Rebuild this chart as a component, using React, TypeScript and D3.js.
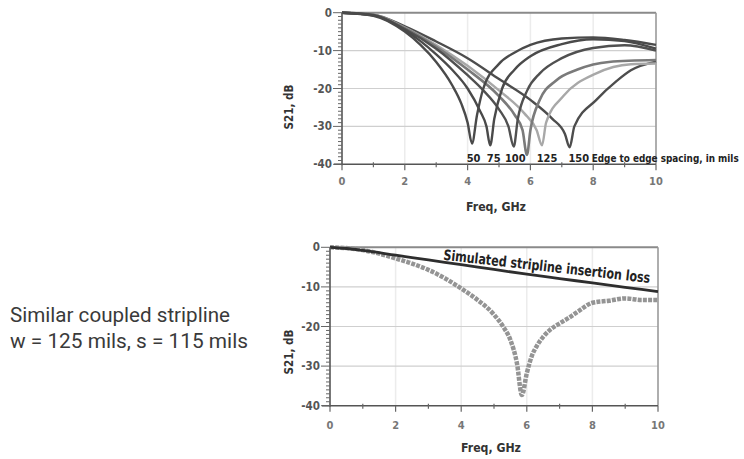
import React from "react";
import * as d3 from "d3";

// ---------- data ----------
const spacingLabels = ["50", "75", "100", "125", "150"];
const spacingLabelFreq = [3.97, 4.61, 5.19, 6.2, 7.21];

const freq50 = [0, 1, 2, 2.5, 3, 3.5, 3.8, 4.0, 4.14, 4.3, 4.5, 5, 5.5, 6, 7, 8, 9, 10];
const s21_50 = [0, -0.8, -5, -8.5, -13, -19, -24, -29, -34.5, -27, -20, -13.5, -10.5, -8.5, -6.8, -6.5, -7.2, -8.5];

const freq75 = [0, 1, 2, 2.5, 3, 3.5, 4, 4.4, 4.6, 4.72, 4.85, 5.1, 5.5, 6, 7, 8, 9, 10];
const s21_75 = [0, -0.7, -4.6, -7.5, -11, -15, -20, -26, -30, -35, -28, -20, -15, -11.5, -8.3, -7, -7.5, -9.5];

const freq100 = [0, 1, 2, 3, 4, 4.5, 5, 5.3, 5.47, 5.6, 5.9, 6.3, 7, 8, 9, 10];
const s21_100 = [0, -0.6, -4.3, -9.5, -16.5, -20.5, -25.5, -30, -35.3, -28, -20.5, -16, -12, -9.3, -8.6, -10];

const freq115 = [0, 1, 2, 3, 4, 5, 5.5, 5.75, 5.89, 6.0, 6.3, 6.8, 7.5, 8.5, 10];
const s21_115 = [0, -0.6, -4.1, -9, -15, -22, -27, -31, -37.5, -31, -23, -18, -15, -13, -12.5];

const freq125 = [0, 1, 2, 3, 4, 5, 5.8, 6.2, 6.37, 6.5, 7.05, 8.1, 9.2, 10];
const s21_125 = [0, -0.5, -3.9, -8.5, -14, -20.5, -26.5, -31, -35, -29, -22, -16, -13.6, -13.4];

const freq150 = [0, 1, 2, 3, 4, 5, 6, 6.7, 7.1, 7.25, 7.4, 8.1, 8.75, 9.2, 10];
const s21_150 = [0, -0.5, -3.6, -7.6, -12, -17.5, -23, -28, -32, -35.5, -30, -23, -18, -15.2, -12.9];

const simFreq = [0, 0.5, 1, 2, 3, 4, 5, 6, 7, 8, 9, 10];
const simS21 = [0, -0.3, -0.8, -2.0, -3.2, -4.4, -5.6, -6.8, -7.9, -9.0, -10.1, -11.2];

const measFreq = [0, 0.5, 1, 1.5, 2, 2.5, 3, 3.5, 4, 4.5, 5, 5.3, 5.5, 5.7, 5.85, 6.0, 6.15, 6.3, 6.5, 6.7, 7.0, 7.3, 7.6, 8.0, 8.5, 9.0, 9.5, 10];
const measS21 = [0, -0.2, -0.7, -1.6, -2.8, -4.1, -5.7, -7.8, -10.4, -13.3, -17, -20.3, -23.4, -29.3, -37.3, -31.8, -27.5, -25, -22.6, -20.9, -19.2, -17.7, -16, -14, -13.5, -12.9, -13.3, -13.3];

const xTicks = [0, 2, 4, 6, 8, 10];
const yTicks = [0, -10, -20, -30, -40];

// ---------- layout ----------
const W = 744;
const H = 459;
const condensed = "'Liberation Sans Narrow', 'DejaVu Sans Condensed', 'Roboto Condensed', 'Liberation Sans', sans-serif";

type Series = { f: number[]; v: number[]; color: string; width: number; dash?: string };

function Panel(props: {
  x0: number; x1: number; y0: number; y1: number;
  series: Series[]; tickBaseline: number; labelY: number; ylabelCenter: number;
  children?: React.ReactNode;
}) {
  const { x0, x1, y0, y1, series } = props;
  const x = d3.scaleLinear().domain([0, 10]).range([x0, x1]);
  const y = d3.scaleLinear().domain([-40, 0]).range([y1, y0]);
  const minorY = d3.range(-40, 1, 1);
  const minorX = d3.range(0, 11, 1);
  const line = d3.line<[number, number]>().x((d) => x(d[0])).y((d) => y(d[1])).curve(d3.curveMonotoneX);
  return (
    <g>
      {/* grid */}
      {[2, 4, 6, 8].map((t) => (
        <line key={"vg" + t} x1={x(t)} x2={x(t)} y1={y0} y2={y1} stroke="#ececec" strokeWidth={1.5} />
      ))}
      {[-10, -20, -30].map((t) => (
        <line key={"hg" + t} x1={x0} x2={x1} y1={y(t)} y2={y(t)} stroke="#cfcfcf" strokeWidth={1.2} />
      ))}
      {/* frame top/right */}
      <line x1={x0} x2={x1} y1={y0} y2={y0} stroke="#8a8a8a" strokeWidth={2} />
      <line x1={x1} x2={x1} y1={y0} y2={y1} stroke="#9a9a9a" strokeWidth={1.6} />
      {/* series */}
      {series.map((s, i) => (
        <path key={i} d={line(s.f.map((f, k) => [f, s.v[k]] as [number, number])) || ""}
          fill="none" stroke={s.color} strokeWidth={s.width} strokeLinejoin="round" strokeDasharray={s.dash} />
      ))}
      {/* axes */}
      <line x1={x0 - 8} x2={x1} y1={y1} y2={y1} stroke="#555" strokeWidth={1.6} />
      <line x1={x0} x2={x0} y1={y0} y2={y1 + 1} stroke="#555" strokeWidth={1.6} />
      {minorY.map((t) => (
        <line key={"my" + t} x1={x0 - (t % 10 === 0 ? 9 : 4)} x2={x0} y1={y(t)} y2={y(t)} stroke="#666" strokeWidth={1} />
      ))}
      {minorX.map((t) => (
        <line key={"mx" + t} x1={x(t)} x2={x(t)} y1={y1 - (t % 2 === 0 ? 0 : 2)} y2={y1 + (t % 2 === 0 ? 6 : 3)} stroke="#666" strokeWidth={1.2} />
      ))}
      {yTicks.map((t) => (
        <text key={"yl" + t} x={x0 - 10} y={y(t) + 4} textAnchor="end" fontFamily={condensed} fontSize={11.5}
          fontWeight={700} fill="#555">{t === 0 ? "0" : "-" + Math.abs(t)}</text>
      ))}
      {xTicks.map((t) => (
        <text key={"xl" + t} x={x(t)} y={props.tickBaseline} textAnchor="middle" fontFamily={condensed} fontSize={11}
          fontWeight={700} fill="#777">{t}</text>
      ))}
      <text x={(x0 + x1) / 2 - 3} y={props.labelY} textAnchor="middle" fontFamily={condensed} fontSize={13}
        fontWeight={700} fill="#333" textLength={60} lengthAdjust="spacingAndGlyphs">Freq, GHz</text>
      <text transform={`translate(293,${props.ylabelCenter}) rotate(-90)`} textAnchor="middle" fontFamily={condensed}
        fontSize={13} fontWeight={700} fill="#333" textLength={45} lengthAdjust="spacingAndGlyphs">S21, dB</text>
      {props.children}
    </g>
  );
}

export default function App() {
  const topSeries: Series[] = [
    { f: freq150, v: s21_150, color: "#4d4d4d", width: 2.4 },
    { f: freq125, v: s21_125, color: "#a8a8a8", width: 2.4 },
    { f: freq115, v: s21_115, color: "#7a7a7a", width: 2.6 },
    { f: freq100, v: s21_100, color: "#505050", width: 2.4 },
    { f: freq75, v: s21_75, color: "#4a4a4a", width: 2.4 },
    { f: freq50, v: s21_50, color: "#4a4a4a", width: 2.4 },
  ];
  const bottomSeries: Series[] = [
    { f: measFreq, v: measS21, color: "#949494", width: 4.5, dash: "4 1.2" },
    { f: simFreq, v: simS21, color: "#2e2e2e", width: 2.8 },
  ];
  const xTop = d3.scaleLinear().domain([0, 10]).range([342, 656]);
  return (
    <svg width={W} height={H} style={{ position: "absolute", left: 0, top: 0, background: "#fff" }}>
      <rect width={W} height={H} fill="#fff" />
      <Panel x0={342} x1={656} y0={12.7} y1={164.3} series={topSeries} tickBaseline={185} labelY={211} ylabelCenter={107}>
        {spacingLabels.map((s, i) => (
          <text key={s} x={xTop(spacingLabelFreq[i])} y={161.5} fontFamily={condensed} fontSize={11} fontWeight={700}
            fill="#222">{s}</text>
        ))}
        <text x={591.7} y={161.5} fontFamily={condensed} fontSize={11} fontWeight={700} fill="#222"
          textLength={147} lengthAdjust="spacingAndGlyphs">Edge to edge spacing, in mils</text>
      </Panel>
      <Panel x0={330} x1={658} y0={247.3} y1={405.7} series={bottomSeries} tickBaseline={429} labelY={452} ylabelCenter={352}>
        <text transform="translate(443,259.8) rotate(6.4)" fontFamily={condensed} fontSize={14.5} fontWeight={700}
          fill="#222" textLength={208} lengthAdjust="spacingAndGlyphs">Simulated stripline insertion loss</text>
      </Panel>
      <text x={10} y={321.5} fontFamily="Roboto, 'Noto Sans', sans-serif" fontSize={20} fill="#3a3a3a"
        textLength={220} lengthAdjust="spacingAndGlyphs">Similar coupled stripline</text>
      <text x={10} y={348} fontFamily="Roboto, 'Noto Sans', sans-serif" fontSize={20} fill="#3a3a3a"
        textLength={238} lengthAdjust="spacingAndGlyphs">w = 125 mils, s = 115 mils</text>
    </svg>
  );
}
